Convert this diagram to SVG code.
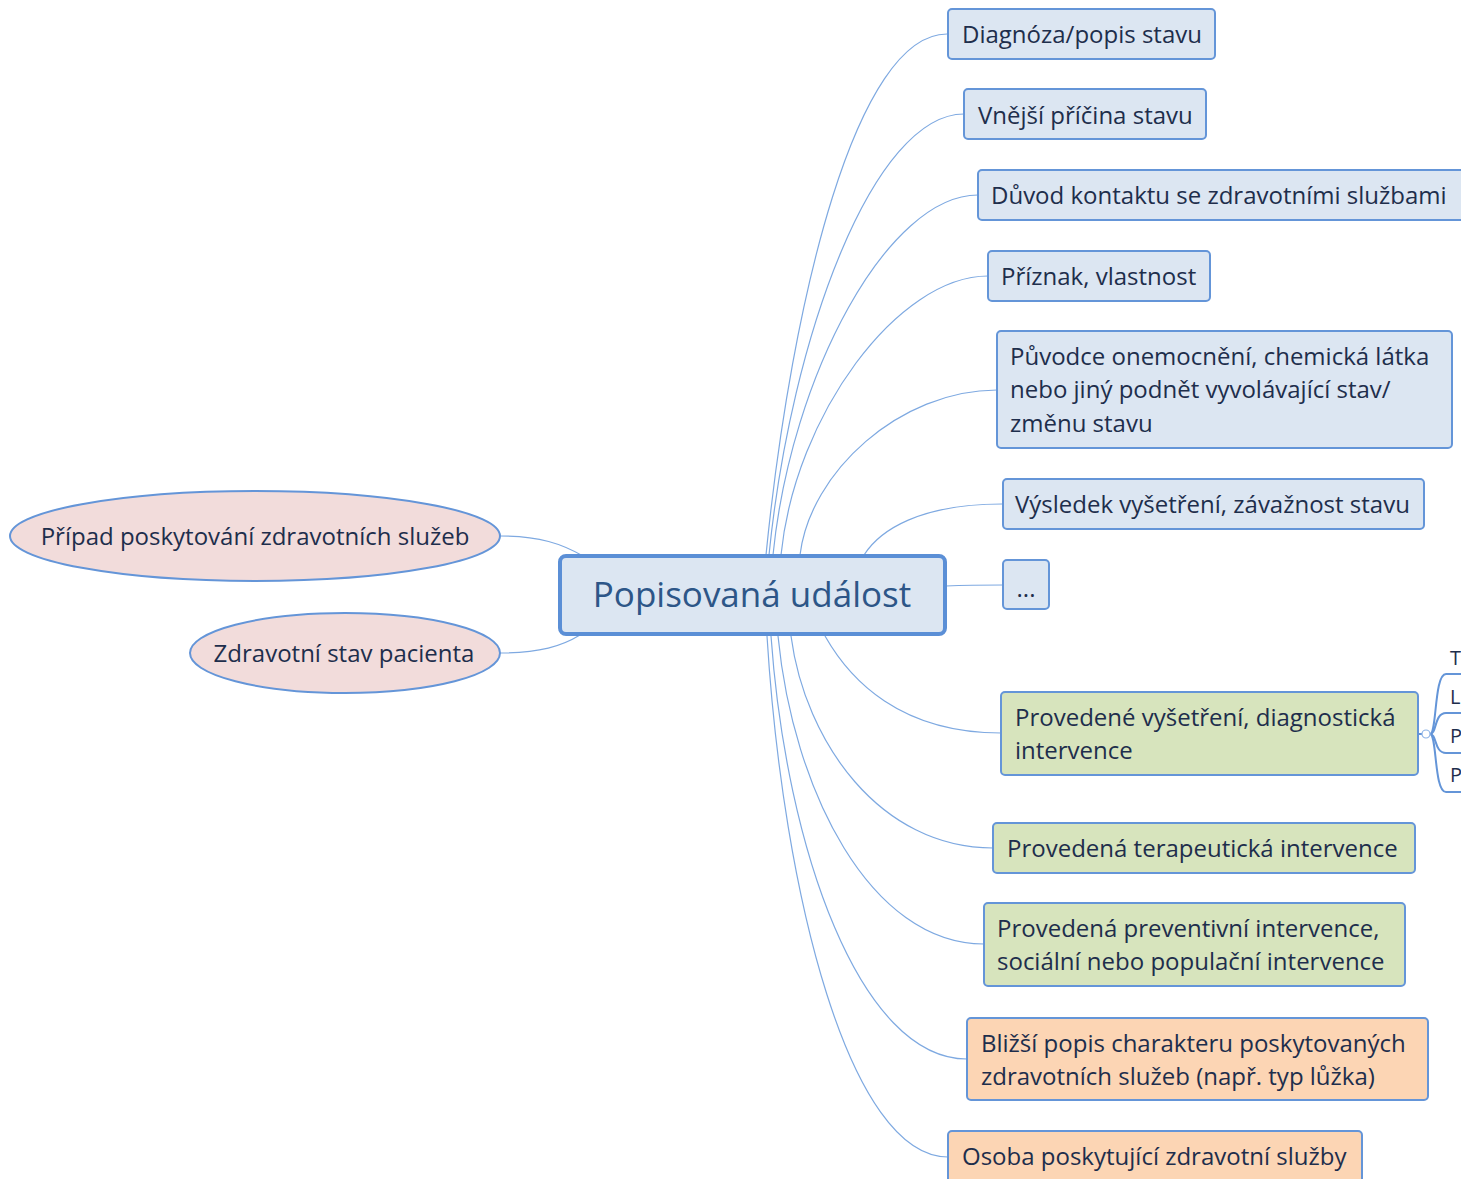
<svg xmlns="http://www.w3.org/2000/svg" width="1461" height="1179" viewBox="0 0 1461 1179">
<style>
.t{font-family:"Open Sans","Noto Sans","DejaVu Sans",sans-serif;font-size:24px;fill:#1E2E4C}
.c{font-family:"Open Sans","Noto Sans","DejaVu Sans",sans-serif;font-size:35px;fill:#2D5688}
.s{font-size:20px}
.blue{fill:#DCE6F2;stroke:#6495D8;stroke-width:2}
.green{fill:#D7E4BD;stroke:#6495D8;stroke-width:2}
.orange{fill:#FCD5B4;stroke:#6495D8;stroke-width:2}
.pink{fill:#F2DCDB;stroke:#6495D8;stroke-width:2}
.ln{fill:none;stroke:#7EA9E1;stroke-width:1.2}
.br{fill:none;stroke:#6495D8;stroke-width:2}
</style>
<rect width="1461" height="1179" fill="#FFFFFF"/>
<g id="connectors">
<path class="ln" d="M766,555 C792,295 857,34 947,34"/>
<path class="ln" d="M769,555 C791,335 874,114 964,114"/>
<path class="ln" d="M773,555 C791,375 888,195 978,195"/>
<path class="ln" d="M781,555 C795,415 898,276 988,276"/>
<path class="ln" d="M800,555 C810,472 900,390 997,390"/>
<path class="ln" d="M864,555 C880,530 920,504 1002,504"/>
<path class="ln" d="M946,586 C970,585 980,585 1003,585"/>
<path class="ln" d="M825,636 C850,680 900,733 1001,733"/>
<path class="ln" d="M791,636 C805,742 880,848 993,848"/>
<path class="ln" d="M778,636 C793,790 870,944 984,944"/>
<path class="ln" d="M771,636 C786,848 860,1059 967,1059"/>
<path class="ln" d="M767,636 C783,896 850,1157 948,1157"/>
<path class="ln" d="M500,536 C540,536 562,544 583,556"/>
<path class="ln" d="M500,653 C540,653 562,646 580,635"/>
<path class="br" d="M1418,734 H1422"/>
<path class="br" d="M1430,734 C1437,734 1434,674 1446,674 H1461"/>
<path class="br" d="M1430,734 C1437,734 1434,713 1446,713 H1461"/>
<path class="br" d="M1430,734 C1437,734 1434,753 1446,753 H1461"/>
<path class="br" d="M1430,734 C1437,734 1434,792 1446,792 H1461"/>
<circle cx="1426" cy="734" r="4" fill="#FFFFFF" stroke="#8DB3E6" stroke-width="1.2"/>
</g>
<g id="central">
<rect x="560" y="556" width="385" height="78" rx="6" fill="#DCE6F2" stroke="#5B8FD6" stroke-width="4"/>
<text class="c" x="752" y="607" text-anchor="middle">Popisovaná událost</text>
</g>
<g id="pripad">
<ellipse class="pink" cx="255" cy="536" rx="245" ry="45"/>
<text class="t" x="255" y="545" text-anchor="middle">Případ poskytování zdravotních služeb</text>
</g>
<g id="zdravotni-stav">
<ellipse class="pink" cx="345" cy="653" rx="155" ry="40"/>
<text class="t" x="344" y="662" text-anchor="middle">Zdravotní stav pacienta</text>
</g>
<g id="diagnoza">
<rect class="blue" x="948" y="9" width="267" height="50" rx="4"/>
<text class="t" x="962" y="43">Diagnóza/popis stavu</text>
</g>
<g id="vnejsi">
<rect class="blue" x="964" y="89" width="242" height="50" rx="4"/>
<text class="t" x="978" y="124">Vnější příčina stavu</text>
</g>
<g id="duvod">
<rect class="blue" x="978" y="170" width="490" height="50" rx="4"/>
<text class="t" x="991" y="204">Důvod kontaktu se zdravotními službami</text>
</g>
<g id="priznak">
<rect class="blue" x="988" y="251" width="222" height="50" rx="4"/>
<text class="t" x="1001" y="285">Příznak, vlastnost</text>
</g>
<g id="puvodce">
<rect class="blue" x="997" y="331" width="455" height="117" rx="4"/>
<text class="t" x="1010" y="365">Původce onemocnění, chemická látka</text>
<text class="t" x="1010" y="398">nebo jiný podnět vyvolávající stav/</text>
<text class="t" x="1010" y="432">změnu stavu</text>
</g>
<g id="vysledek">
<rect class="blue" x="1003" y="479" width="421" height="50" rx="4"/>
<text class="t" x="1015" y="513">Výsledek vyšetření, závažnost stavu</text>
</g>
<g id="dalsi">
<rect class="blue" x="1003" y="560" width="46" height="49" rx="4"/>
<text class="t" x="1026" y="597" text-anchor="middle">...</text>
</g>
<g id="vysetreni">
<rect class="green" x="1001" y="692" width="417" height="83" rx="4"/>
<text class="t" x="1015" y="726">Provedené vyšetření, diagnostická</text>
<text class="t" x="1015" y="759">intervence</text>
</g>
<g id="vysetreni-children">
<text class="t s" x="1450" y="665">T</text>
<text class="t s" x="1450" y="704">L</text>
<text class="t s" x="1450" y="743">P</text>
<text class="t s" x="1450" y="782">P</text>
</g>
<g id="terapeuticka">
<rect class="green" x="993" y="823" width="422" height="50" rx="4"/>
<text class="t" x="1007" y="857">Provedená terapeutická intervence</text>
</g>
<g id="preventivni">
<rect class="green" x="984" y="903" width="421" height="83" rx="4"/>
<text class="t" x="997" y="937">Provedená preventivní intervence,</text>
<text class="t" x="997" y="970">sociální nebo populační intervence</text>
</g>
<g id="blizsi">
<rect class="orange" x="967" y="1018" width="461" height="82" rx="4"/>
<text class="t" x="981" y="1052">Bližší popis charakteru poskytovaných</text>
<text class="t" x="981" y="1085">zdravotních služeb (např. typ lůžka)</text>
</g>
<g id="osoba">
<rect class="orange" x="948" y="1131" width="414" height="60" rx="4"/>
<text class="t" x="962" y="1165">Osoba poskytující zdravotní služby</text>
</g>
</svg>
